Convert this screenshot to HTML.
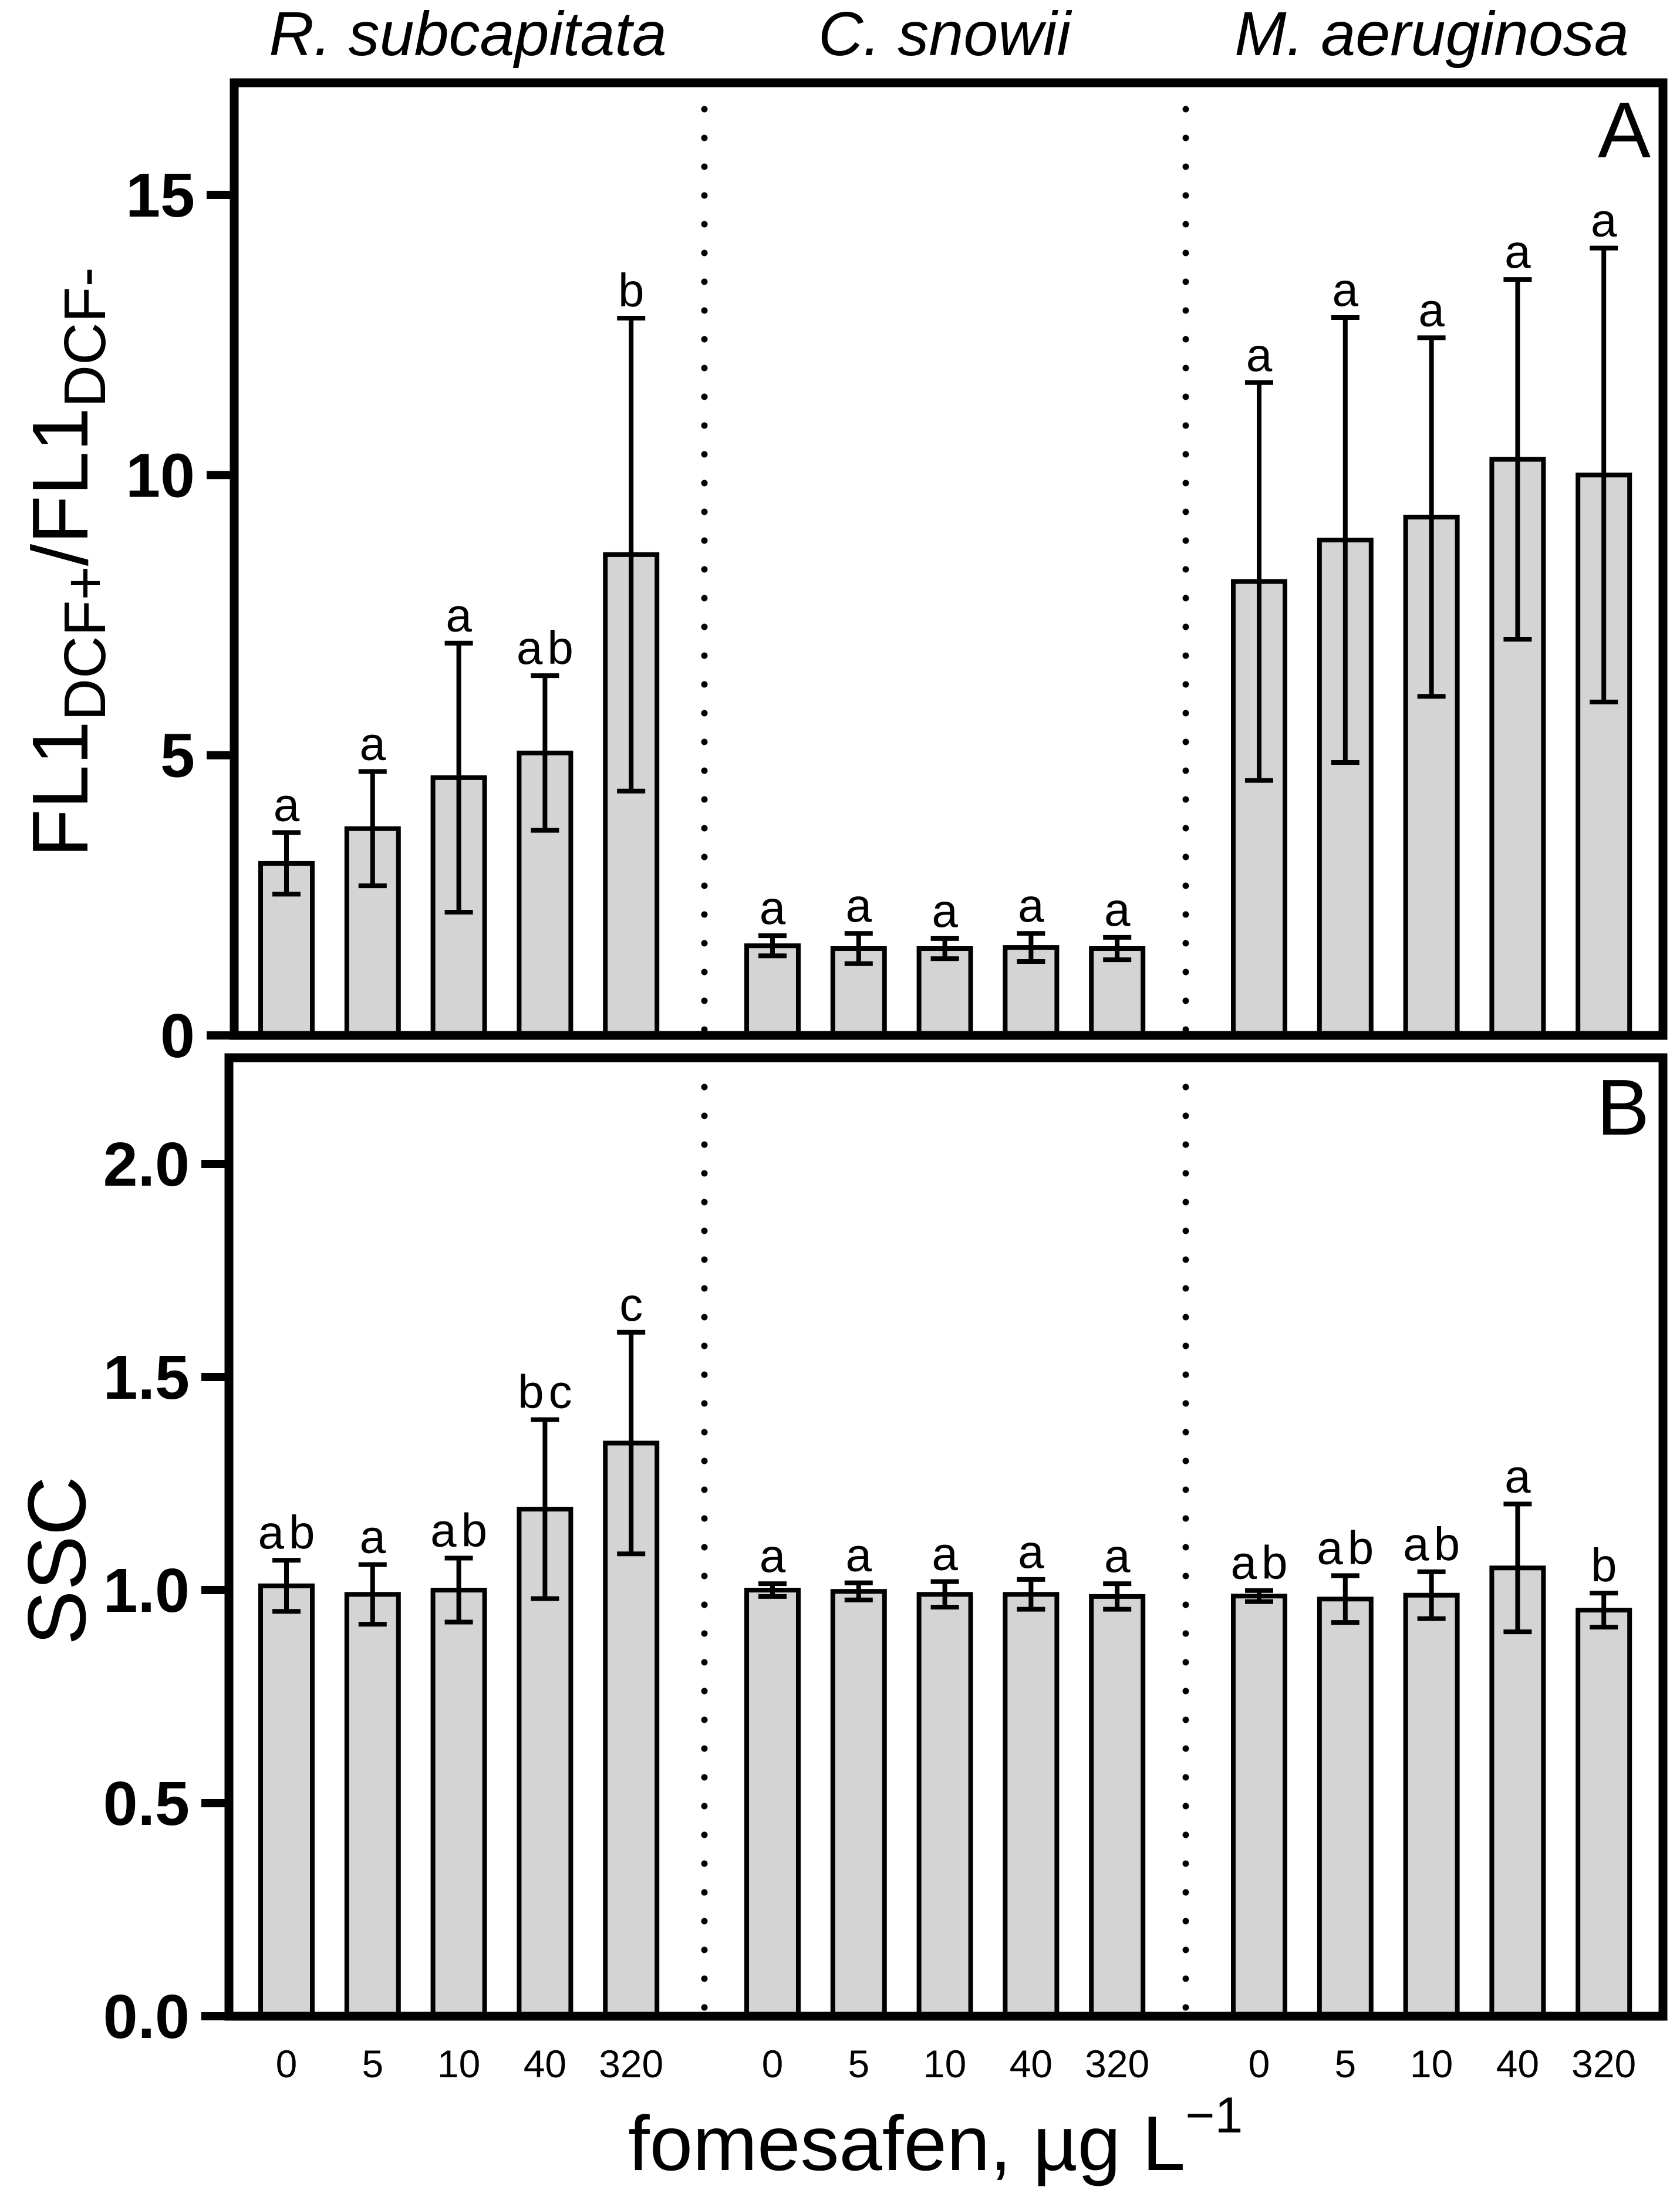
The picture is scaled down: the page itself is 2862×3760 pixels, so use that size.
<!DOCTYPE html>
<html><head><meta charset="utf-8"><style>
html,body{margin:0;padding:0;background:#fff}
svg{display:block}
text{font-family:"Liberation Sans",Arial,sans-serif;fill:#000}
</style></head><body>
<svg id="chart" width="2862" height="3760" viewBox="0 0 2862 3760" xmlns="http://www.w3.org/2000/svg">
<g id="static">
  <text x="797" y="94" font-size="106" font-style="italic" text-anchor="middle">R. subcapitata</text>
  <text x="1609" y="94" font-size="106" font-style="italic" text-anchor="middle">C. snowii</text>
  <text x="2439" y="94" font-size="106" font-style="italic" text-anchor="middle">M. aeruginosa</text>
  <text transform="translate(149,958) rotate(-90)" font-size="135" text-anchor="middle">FL1<tspan font-size="100" dy="30">DCF+</tspan><tspan dy="-30">/FL1</tspan><tspan font-size="100" dy="30">DCF-</tspan></text>
  <text transform="translate(145,2659) rotate(-90)" font-size="140" text-anchor="middle">SSC</text>
  <text x="1070" y="3697" font-size="132">fomesafen, µg L<tspan font-size="86" dy="-64">−1</tspan></text>
  <text x="2812" y="268" font-size="135" text-anchor="end">A</text>
  <text x="2810" y="1933" font-size="135" text-anchor="end">B</text>
</g>
<g id="marks"></g>
</svg>
<script>
const categories = ["0","5","10","40","320"];
const species = ["R. subcapitata","C. snowii","M. aeruginosa"];
const aMeans = [[3.07,3.69,4.60,5.04,8.58],[1.60,1.55,1.55,1.57,1.55],[8.10,8.84,9.25,10.28,10.0]];
const aErrs  = [[0.55,1.02,2.40,1.38,4.22],[0.18,0.27,0.18,0.25,0.20],[3.55,3.97,3.20,3.21,4.05]];
const aLetters = [["a","a","a","ab","b"],["a","a","a","a","a"],["a","a","a","a","a"]];
const aTicks = [0,5,10,15];
const aTickLabels = ["0","5","10","15"];
const bMeans = [[1.01,0.99,1.0,1.19,1.345],[1.0,0.997,0.99,0.99,0.985],[0.986,0.979,0.988,1.052,0.953]];
const bErrs  = [[0.06,0.07,0.075,0.21,0.26],[0.015,0.02,0.03,0.035,0.03],[0.013,0.055,0.055,0.15,0.04]];
const bLetters = [["ab","a","ab","bc","c"],["a","a","a","a","a"],["ab","ab","ab","a","b"]];
const bTicks = [0,0.5,1.0,1.5,2.0];
const bTickLabels = ["0.0","0.5","1.0","1.5","2.0"];

const NS="http://www.w3.org/2000/svg";
const marks=document.getElementById('marks');
function mk(tag,attrs,parent){const e=document.createElementNS(NS,tag);for(const k in attrs)e.setAttribute(k,attrs[k]);(parent||marks).appendChild(e);return e;}
function xPos(g,i){return [488,1316,2145][g]+i*146.8;}
const yA=v=>1764-v*95.47;
const yB=v=>3435-v*726;

function panel(means,errs,letters,ticks,tickLabels,yf,frame,tickX0,key){
  for(let g=0;g<3;g++){for(let i=0;i<5;i++){
    const cx=xPos(g,i), m=means[g][i], e=errs[g][i];
    const r=mk('rect',{x:cx-44,y:yf(m),width:88,height:yf(0)-yf(m),fill:'#d4d4d4',stroke:'#000','stroke-width':8});
    
    
    const eb=mk('path',{d:`M${cx},${yf(m+e)}V${yf(m-e)}M${cx-24},${yf(m+e)}H${cx+24}M${cx-24},${yf(m-e)}H${cx+24}`,stroke:'#000','stroke-width':8,fill:'none'});
    
    
    const t=mk('text',{x:cx+4,y:yf(m+e)-20,'font-size':80,'text-anchor':'middle','letter-spacing':8});
    t.textContent=letters[g][i];
    
    
  }}
  const f=mk('path',{d:`M${frame[0]},${frame[1]}H${frame[2]}V${frame[3]}H${frame[0]}Z`,fill:'none',stroke:'#000','stroke-width':15});
  
  
  ticks.forEach((v,k)=>{
    const tk=mk('line',{x1:tickX0,x2:frame[0],y1:yf(v),y2:yf(v),stroke:'#000','stroke-width':14});
    
    
    const tl=mk('text',{x:tickX0-20,y:yf(v)+37,'font-size':106,'font-weight':'bold','text-anchor':'end'});
    tl.textContent=tickLabels[k];
    
    
  });
}
panel(aMeans,aErrs,aLetters,aTicks,aTickLabels,yA,[399,141,2833,1764],352,'a');
panel(bMeans,bErrs,bLetters,bTicks,bTickLabels,yB,[390,1802,2833,3435],343,'b');

[1200,2020].forEach((x,k)=>{
  const d=mk('line',{x1:x,x2:x,y1:186,y2:3430,stroke:'#000','stroke-width':11,'stroke-linecap':'round','stroke-dasharray':'0 49'});
  
  
});
for(let g=0;g<3;g++){for(let i=0;i<5;i++){
  const t=mk('text',{x:xPos(g,i),y:3539,'font-size':66,'text-anchor':'middle'});
  t.textContent=categories[i];
  
  
}}
</script>
</body></html>
